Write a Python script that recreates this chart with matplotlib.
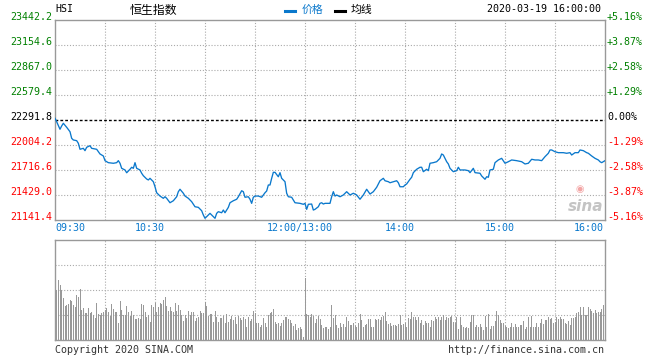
import matplotlib
matplotlib.use('Agg')
import matplotlib.pyplot as plt
from matplotlib.lines import Line2D
from matplotlib.transforms import offset_copy
import numpy as np

# price line, minutes after 09:30 (lunch break removed) and index value
price_min = [0, 1, 3, 4, 5, 7, 9, 10, 11, 13, 14, 15, 17, 18, 19, 21, 22, 25, 27, 29,
             30, 32, 35, 37, 38, 39, 40, 42, 43, 45, 46, 47, 48, 49, 51, 52, 53, 55, 56, 57,
             59, 60, 61, 63, 65, 66, 67, 69, 71, 73, 74, 75, 77, 78, 80, 82, 84, 86, 88, 89,
             90, 92, 93, 94, 96, 97, 98, 100, 101, 102, 104, 105, 107, 109, 110, 112, 113, 114, 116, 117,
             118, 119, 120, 122, 124, 126, 127, 128, 129, 130, 131, 132, 134, 135, 136, 138, 139, 140, 142, 143,
             144, 147, 149, 150, 151, 152, 154, 155, 156, 158, 159, 160, 161, 162, 165, 166, 167, 168, 169, 171,
             173, 175, 177, 179, 181, 183, 185, 187, 189, 191, 193, 194, 195, 197, 198, 200, 201, 203, 205, 206,
             207, 209, 210, 211, 213, 214, 215, 217, 219, 220, 221, 223, 224, 225, 227, 229, 231, 232, 233, 235,
             236, 237, 239, 241, 242, 243, 246, 248, 249, 251, 252, 255, 256, 258, 259, 260, 261, 263, 264, 266,
             268, 270, 272, 274, 277, 280, 282, 284, 286, 288, 290, 292, 294, 296, 297, 298, 300, 302, 305, 307,
             309, 310, 312, 314, 315, 317, 319, 320, 322, 324, 326, 327, 328, 330]
price_val = [22311, 22272, 22185, 22223, 22254, 22208, 22157, 22081, 22062, 22054, 22024, 21955, 21966, 21939, 21978, 21996, 21966, 21955, 21901, 21878,
             21824, 21801, 21794, 21801, 21824, 21794, 21736, 21717, 21685, 21725, 21748, 21736, 21801, 21736, 21717, 21679, 21651, 21613, 21602, 21621,
             21582, 21524, 21455, 21417, 21391, 21409, 21391, 21340, 21363, 21409, 21467, 21495, 21449, 21417, 21391, 21352, 21294, 21287, 21248, 21199,
             21161, 21199, 21218, 21199, 21161, 21218, 21237, 21225, 21256, 21225, 21287, 21340, 21363, 21380, 21409, 21478, 21467, 21403, 21409, 21380,
             21333, 21403, 21417, 21417, 21403, 21455, 21475, 21544, 21544, 21621, 21690, 21690, 21639, 21686, 21621, 21582, 21449, 21409, 21403, 21371,
             21340, 21333, 21322, 21333, 21264, 21322, 21325, 21256, 21264, 21294, 21333, 21340, 21325, 21333, 21333, 21409, 21467, 21417, 21429, 21409,
             21429, 21467, 21429, 21449, 21429, 21380, 21429, 21495, 21440, 21467, 21518, 21556, 21593, 21621, 21593, 21582, 21570, 21582, 21593, 21570,
             21524, 21524, 21544, 21556, 21610, 21633, 21686, 21725, 21748, 21748, 21697, 21725, 21709, 21794, 21801, 21812, 21851, 21901, 21889, 21812,
             21786, 21736, 21697, 21709, 21748, 21717, 21717, 21709, 21686, 21736, 21686, 21679, 21648, 21610, 21639, 21633, 21717, 21725, 21801, 21832,
             21851, 21794, 21812, 21832, 21824, 21812, 21786, 21794, 21840, 21832, 21832, 21824, 21870, 21909, 21947, 21947, 21927, 21916, 21916, 21909,
             21916, 21889, 21916, 21916, 21947, 21939, 21916, 21909, 21878, 21851, 21832, 21812, 21801, 21824]

# per-minute volume (relative units, no scale shown on the chart)
volume = [53, 50, 60, 55, 50, 42, 34, 35, 36, 40,
          39, 35, 33, 45, 43, 51, 30, 32, 27, 27,
          32, 27, 28, 25, 22, 37, 26, 25, 27, 28,
          30, 32, 28, 24, 36, 31, 28, 28, 17, 39,
          30, 25, 25, 34, 28, 24, 29, 25, 21, 21,
          22, 21, 36, 35, 28, 23, 25, 18, 35, 33,
          37, 28, 33, 37, 36, 40, 43, 34, 29, 33,
          29, 28, 37, 29, 35, 30, 25, 19, 25, 22,
          29, 25, 28, 28, 19, 22, 23, 29, 27, 27,
          38, 34, 24, 26, 26, 18, 29, 23, 18, 22,
          22, 24, 17, 26, 18, 21, 24, 20, 23, 16,
          24, 22, 20, 23, 21, 13, 23, 19, 21, 29,
          27, 17, 17, 13, 15, 22, 17, 13, 25, 27,
          28, 31, 18, 16, 17, 14, 17, 20, 23, 23,
          21, 20, 17, 14, 16, 10, 12, 13, 11, 3,
          62, 26, 25, 23, 26, 24, 17, 21, 24, 21,
          15, 12, 13, 13, 11,
          13, 35, 22, 25, 15, 12, 17, 13, 16, 13,
          23, 19, 15, 15, 17, 14, 13, 17, 26, 20,
          13, 15, 16, 21, 21, 13, 13, 21, 20, 21,
          20, 23, 24, 28, 19, 16, 17, 14, 15, 15,
          14, 16, 25, 15, 16, 17, 13, 22, 21, 28,
          23, 23, 20, 23, 17, 20, 15, 19, 17, 17,
          13, 20, 19, 23, 21, 23, 20, 23, 25, 20,
          23, 22, 23, 24, 18, 17, 23, 11, 23, 15,
          13, 12, 13, 12, 18, 25, 25, 13, 15, 13,
          16, 13, 10, 24, 13, 26, 11, 14, 14, 19,
          29, 25, 20, 17, 17, 14, 13, 12, 13, 17,
          13, 16, 13, 13, 15, 15, 19, 11, 13, 23,
          13, 24, 13, 13, 17, 13, 17, 21, 16, 20,
          20, 23, 21, 22, 17, 18, 23, 21, 23, 21,
          21, 17, 16, 19, 15, 22, 22, 23, 27, 28,
          33, 25, 33, 25, 25, 33, 31, 29, 27, 30,
          27, 28, 28, 31, 35, 37]

prev_close = 22291.8
y_ticks = [21141.4, 21429.0, 21716.6, 22004.2, 22291.8, 22579.4, 22867.0, 23154.6, 23442.2]
time_ticks = [0, 60, 150, 210, 270, 330]
time_labels = ['09:30', '10:30', '12:00/13:00', '14:00', '15:00', '16:00']

BLUE = '#0a78cc'
GREEN = '#008000'
RED = '#ff0000'
GRID = '#aaaaaa'
FRAME = '#999999'
MONO = 'DejaVu Sans Mono'
CJK = ['Noto Sans CJK SC', 'DejaVu Sans']
FS = 7.2

fig = plt.figure(figsize=(6.6, 3.6), dpi=100)
W, H = 660.0, 360.0
ax = fig.add_axes([55 / W, 140 / H, 550 / W, 200 / H])
axv = fig.add_axes([55 / W, 20 / H, 550 / W, 100 / H])

for a in (ax, axv):
    a.set_xlim(0, 330)
    a.set_xticks([])
    a.set_yticks([])
    for s in a.spines.values():
        s.set_color(FRAME)
        s.set_linewidth(1.0)
    for m in range(30, 330, 30):
        a.axvline(m, color=GRID, lw=0.8, ls=(0, (1, 1.6)), zorder=0)

# price panel
ax.set_ylim(y_ticks[0], y_ticks[-1])
for v in y_ticks[1:-1]:
    if v != prev_close:
        ax.axhline(v, color=GRID, lw=0.8, ls=(0, (1, 1.6)), zorder=0)
ax.axhline(prev_close, color='black', lw=1.0, ls=(0, (2, 1.5)), zorder=1)
ax.plot(price_min, price_val, color=BLUE, lw=0.95, zorder=3)

left_tr = offset_copy(ax.get_yaxis_transform(), fig=fig, x=-3, y=3, units='dots')
right_tr = offset_copy(ax.get_yaxis_transform(), fig=fig, x=2, y=3, units='dots')
for v in y_ticks:
    if v > prev_close + 1:
        c = GREEN
    elif v < prev_close - 1:
        c = RED
    else:
        c = 'black'
    pct = (v - prev_close) / prev_close * 100
    plab = '0.00%' if abs(pct) < 0.005 else '%+.2f%%' % pct
    ax.text(0, v, '%.1f' % v, transform=left_tr, ha='right', va='center',
            color=c, family=MONO, fontsize=FS)
    ax.text(1, v, plab, transform=right_tr, ha='left', va='center',
            color=c, family=MONO, fontsize=FS)

for m, lab in zip(time_ticks, time_labels):
    if m == 0:
        ha, dx = 'left', 0
    elif m == 330:
        ha, dx = 'right', -1
    else:
        ha, dx = 'center', -5
    tr = offset_copy(ax.get_xaxis_transform(), fig=fig, x=dx, y=-8, units='dots')
    ax.text(m, 0, lab, transform=tr, ha=ha, va='center', color=BLUE,
            family=MONO, fontsize=FS)

# sina watermark
fig.text(580 / W, 1 - 189 / H, '◉', color='#f3a5a5', fontsize=7, ha='center', va='center')
fig.text(586 / W, 1 - 207 / H, 'sina', color='#c4c4c4', fontsize=11, style='italic',
         weight='bold', ha='center', va='center')

# volume panel
axv.set_ylim(0, 100)
for v in (25, 50, 75):
    axv.axhline(v, color=GRID, lw=0.8, ls=(0, (1, 1.6)), zorder=0)
axv.bar(np.arange(len(volume)), volume, width=0.6, color='#999999', zorder=2)

# header
fig.text(55 / W, 1 - 9 / H, 'HSI', family=MONO, fontsize=FS, va='center', ha='left')
fig.text(130 / W, 1 - 10 / H, '恒生指数', family=CJK, fontsize=8.6, va='center', ha='left')
fig.add_artist(Line2D([285 / W, 295 / W], [1 - 11 / H] * 2, color=BLUE, lw=2.2))
fig.text(302 / W, 1 - 10 / H, '价格', family=CJK, fontsize=7.8, color=BLUE, va='center', ha='left')
fig.add_artist(Line2D([335 / W, 345 / W], [1 - 11 / H] * 2, color='black', lw=2.2))
fig.text(351 / W, 1 - 10 / H, '均线', family=CJK, fontsize=7.8, color='black', va='center', ha='left')
fig.text(487 / W, 1 - 9 / H, '2020-03-19 16:00:00', family=MONO, fontsize=FS, va='center', ha='left')

# footer
fig.text(55 / W, 1 - 350 / H, 'Copyright 2020 SINA.COM', family=MONO, fontsize=FS,
         color='#333333', va='center', ha='left')
fig.text(604 / W, 1 - 350 / H, 'http://finance.sina.com.cn', family=MONO, fontsize=FS,
         color='#333333', va='center', ha='right')

fig.savefig('out.png', dpi=100, facecolor='white')
